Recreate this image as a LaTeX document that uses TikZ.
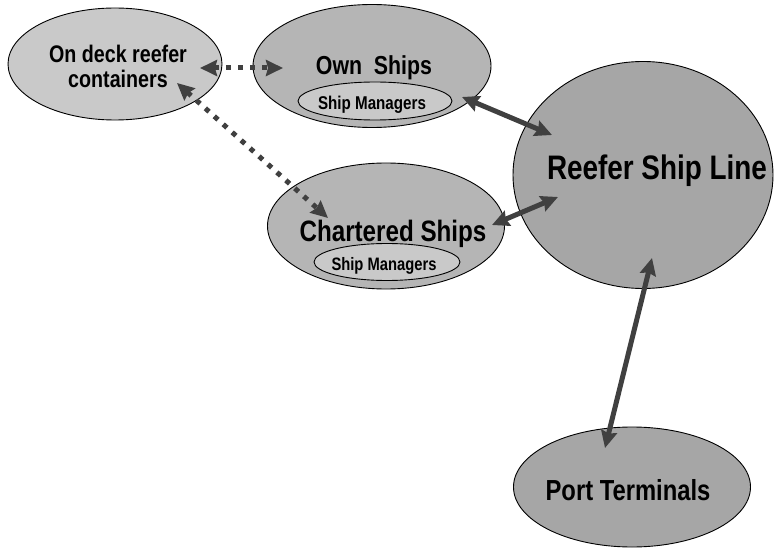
\documentclass[tikz,border=0pt]{standalone}
\usepackage{fontspec}
\setmainfont{Liberation Sans}[FakeStretch=0.82]
\usetikzlibrary{shapes.geometric,arrows.meta}
\begin{document}
\begin{tikzpicture}
  [x=1pt,y=-1pt,every node/.style={font=\bfseries},
   party/.style={ellipse,draw,line width=0.9pt,inner sep=0pt},
   link/.style={draw=black!75,line width=5pt,{Stealth[length=17pt,width=16pt,inset=2pt]}-{Stealth[length=17pt,width=16pt,inset=2pt]}},
   dots/.style={link,dash pattern=on 5pt off 7pt}]
  \useasboundingbox (0,0) rectangle (774,548);
  % the parties
  \node[party,fill=black!21,minimum width=214pt,minimum height=112pt] (deck)    at (115,64)  {};
  \node[party,fill=black!29,minimum width=238pt,minimum height=123pt] (own)     at (372,66)  {};
  \node[party,fill=black!21,minimum width=154pt,minimum height=38pt]  (ownsm)   at (375,101) {};
  \node[party,fill=black!29,minimum width=237pt,minimum height=126pt] (chart)   at (386,226) {};
  \node[party,fill=black!21,minimum width=146pt,minimum height=37pt]  (chartsm) at (387,262) {};
  \node[party,fill=black!35,minimum width=260pt,minimum height=227pt] (reef)    at (643,175) {};
  \node[party,fill=black!35,minimum width=237pt,minimum height=120pt] (port)    at (632,487) {};
  % the names
  \node[align=center,font=\bfseries\fontsize{24}{25}\selectfont] (deckT) at (118,66) {On deck reefer\\containers};
  \node[anchor=base,font=\bfseries\fontsize{26}{28}\selectfont] (ownT)    at (374,75)  {Own\ \ Ships};
  \node[anchor=base,font=\bfseries\fontsize{18.5}{20}\selectfont] (ownsmT)  at (372,110) {Ship Managers};
  \node[anchor=base,font=\bfseries\fontsize{29.5}{31}\selectfont] (chartT)  at (393,242) {Chartered Ships};
  \node[anchor=base,font=\bfseries\fontsize{18}{20}\selectfont] (chartsmT) at (384,270) {Ship Managers};
  \node[anchor=base,font=\bfseries\fontsize{34}{36}\selectfont] (reefT)   at (657,180) {Reefer Ship Line};
  \node[anchor=base,font=\bfseries\fontsize{29}{31}\selectfont] (portT)   at (628,500) {Port Terminals};
  % arrow ends
  \coordinate (deckE)  at (200,68);
  \coordinate (ownW)   at (283,68);
  \coordinate (deckS)  at (177,83);
  \coordinate (chartN) at (328,218);
  \coordinate (ownE)   at (462,97);
  \coordinate (reefW)  at (552,135);
  \coordinate (chartE) at (492,225);
  \coordinate (reefSW) at (558,197);
  \coordinate (reefS)  at (652,258);
  \coordinate (portN)  at (605,448);

\foreach \source/\dest/\kind in {deckE/ownW/dots,deckS/chartN/dots,ownE/reefW/link,chartE/reefSW/link,reefS/portN/link}
   \draw[\kind] (\source) -- (\dest);

\end{tikzpicture}
\end{document}
